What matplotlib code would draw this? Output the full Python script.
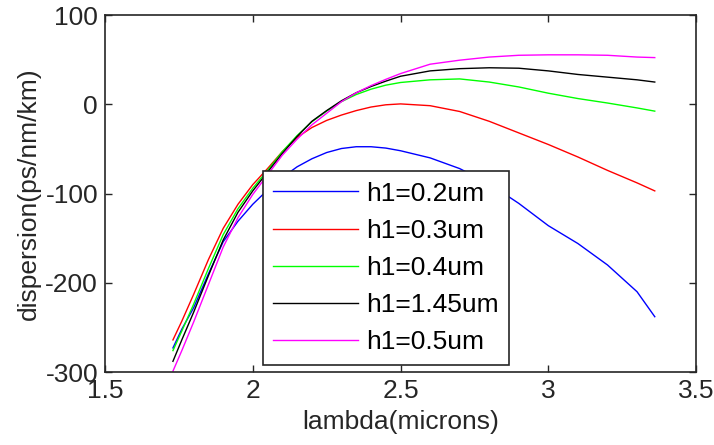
import matplotlib
matplotlib.use('Agg')
import matplotlib.pyplot as plt

# ---------------------------------------------------------------------------
# data (lambda in microns, dispersion in ps/nm/km)
# ---------------------------------------------------------------------------
lam = [1.73, 1.76, 1.80, 1.85, 1.90, 1.95, 2.00, 2.05, 2.10, 2.15, 2.20, 2.25,
       2.30, 2.35, 2.40, 2.45, 2.50, 2.60, 2.70, 2.80, 2.90, 3.00, 3.10, 3.20,
       3.30, 3.36]

d_02 = [-273, -252, -228, -190, -154, -131, -112, -96, -82, -70, -61, -54,
        -49.5, -47.5, -47.5, -49, -52, -60, -72, -89, -111, -136, -156, -180,
        -210, -238]
d_03 = [-264, -243, -213, -174, -139, -112, -90, -72, -53, -37, -26, -18,
        -12, -7, -3, -0.5, 0.5, -1.5, -8, -19, -32, -45, -59, -74, -88, -97]
d_04 = [-276, -254, -224, -184, -146, -117, -94, -74, -53, -35, -19.5, -7.5,
        3, 11, 17, 21.5, 24.5, 27.5, 28.5, 25, 19.5, 12.5, 6.5, 1.5, -4, -7.6]
d_145 = [-288, -264, -233, -192, -152, -121, -97, -76, -55, -36, -19, -7,
         4, 13, 20, 26, 31.5, 37.5, 40, 41, 40.5, 37.5, 33.5, 30.5, 27.5, 25]
d_05 = [-299, -276, -244, -202, -160, -127, -101, -79, -57, -39, -23, -10,
        3, 13, 21, 28, 34.5, 45, 49.5, 53, 55, 55.5, 55.5, 55, 53, 52.4]

series = [
    (d_02, 'h1=0.2um', (0, 0, 1)),
    (d_03, 'h1=0.3um', (1, 0, 0)),
    (d_04, 'h1=0.4um', (0, 1, 0)),
    (d_145, 'h1=1.45um', (0, 0, 0)),
    (d_05, 'h1=0.5um', (1, 0, 1)),
]

plt.rcParams['font.family'] = ['Liberation Sans', 'DejaVu Sans']
plt.rcParams['axes.unicode_minus'] = False
FS = 19
INK = '#262626'

fig = plt.figure(figsize=(7.14, 4.45), dpi=100)
ax = fig.add_axes([0.147, 0.164, 0.828, 0.802])

for vals, label, color in series:
    ax.plot(lam, vals, color=color, linewidth=1.0, label=label)

ax.set_xlim(1.5, 3.5)
ax.set_ylim(-300, 100)
ax.set_xticks([1.5, 2, 2.5, 3, 3.5])
ax.set_xticklabels(['1.5', '2', '2.5', '3', '3.5'])
ax.set_yticks([-300, -200, -100, 0, 100])
ax.tick_params(direction='in', length=5, width=1, top=True, right=True,
               labelsize=FS, colors=INK, pad=5)
for sp in ax.spines.values():
    sp.set_linewidth(1.2)
    sp.set_color(INK)

ax.set_xlabel('lambda(microns)', fontsize=FS, color=INK, labelpad=5)
ax.set_ylabel('dispersion(ps/nm/km)', fontsize=FS, color=INK, labelpad=3)

leg = ax.legend(loc='lower left', bbox_to_anchor=(0.267, 0.02),
                fontsize=FS, frameon=True, fancybox=False, shadow=False,
                framealpha=1, handlelength=3.2, handletextpad=0.3,
                labelspacing=0.5, borderpad=0.4, borderaxespad=0)
leg.get_frame().set_edgecolor(INK)
leg.get_frame().set_linewidth(1.2)

fig.savefig('out.png', dpi=100)
